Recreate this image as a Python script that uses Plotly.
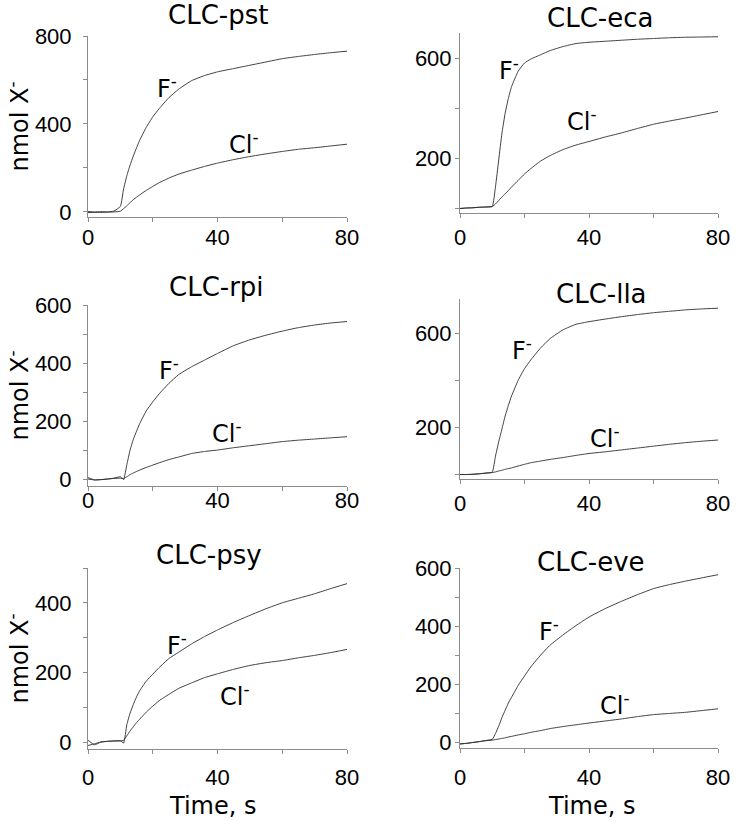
import plotly.graph_objects as go

# ---------------- data ----------------
T = [0, 2, 4, 6, 8, 10, 11, 12, 13, 14, 15, 16, 18, 20, 22, 25, 28, 32, 36, 40, 45, 50, 55, 60, 65, 70, 75, 80]

pst_F = [2, 0, 1, 0, 4, 25, 105, 165, 213, 255, 292, 327, 385, 432, 470, 520, 558, 597, 620, 637, 652, 667, 682, 697, 707, 716, 724, 731]
pst_Cl = [-3, -2, -2, -1, 0, 3, 15, 28, 42, 56, 67, 78, 98, 116, 133, 154, 172, 190, 207, 222, 238, 252, 264, 275, 285, 292, 300, 308]
eca_F = [-2, 0, 1, 3, 4, 6, 85, 192, 299, 379, 439, 486, 546, 580, 596, 613, 630, 646, 658, 663, 667, 671, 675, 678, 681, 683, 684, 685]
eca_Cl = [-2, 0, 1, 3, 4, 6, 16, 30, 44, 57, 70, 84, 110, 136, 158, 188, 210, 234, 252, 266, 284, 300, 318, 335, 348, 360, 373, 386]
rpi_F = [5, -3, -2, 0, 3, 8, -2, 50, 100, 137, 165, 192, 235, 266, 294, 330, 360, 387, 410, 433, 460, 480, 496, 510, 522, 531, 538, 543]
rpi_Cl = [0, -3, -2, 0, 2, 3, 2, 8, 15, 21, 26, 31, 40, 48, 56, 67, 76, 88, 95, 100, 108, 115, 122, 129, 134, 138, 142, 146]
lla_F = [2, 2, 3, 5, 8, 12, 80, 140, 195, 250, 295, 335, 400, 450, 488, 538, 578, 615, 638, 649, 660, 670, 679, 687, 693, 699, 703, 706]
lla_Cl = [2, 2, 3, 5, 8, 10, 13, 17, 20, 24, 27, 30, 38, 45, 52, 59, 66, 74, 83, 91, 98, 106, 114, 122, 130, 137, 143, 148]
psy_F = [5, -8, 0, 2, 3, 4, -3, 50, 83, 108, 130, 148, 175, 195, 214, 240, 258, 282, 303, 322, 344, 364, 383, 400, 413, 426, 441, 455]
psy_Cl = [-10, -5, 0, 2, 3, 3, 5, 18, 32, 44, 56, 66, 86, 103, 119, 137, 154, 170, 185, 196, 209, 220, 228, 234, 242, 249, 257, 266]
eve_F = [-6, -4, -1, 2, 6, 10, 30, 55, 85, 110, 135, 155, 195, 228, 260, 300, 335, 370, 402, 431, 460, 485, 508, 529, 543, 555, 566, 577]
eve_Cl = [-6, -4, -1, 2, 5, 7, 9, 11, 13, 15, 18, 20, 25, 29, 34, 40, 47, 54, 60, 66, 73, 80, 88, 95, 99, 103, 109, 115]

titles = ["CLC-pst", "CLC-eca", "CLC-rpi", "CLC-lla", "CLC-psy", "CLC-eve"]
F_series = [pst_F, eca_F, rpi_F, lla_F, psy_F, eve_F]
Cl_series = [pst_Cl, eca_Cl, rpi_Cl, lla_Cl, psy_Cl, eve_Cl]

x_ticks = [0, 20, 40, 60, 80]
x_ticktext = ["0", "", "40", "", "80"]
y_ranges = [[-23, 800], [-20, 700], [-24, 600], [-17, 745], [-20, 500], [-20, 600]]
y_tickvals = [[0, 200, 400, 600, 800], [0, 200, 400, 600], [0, 100, 200, 300, 400, 500, 600],
              [0, 200, 400, 600], [0, 100, 200, 300, 400, 500], [0, 100, 200, 300, 400, 500, 600]]
y_ticktext = [["0", "", "400", "", "800"], ["", "200", "", "600"], ["0", "", "200", "", "400", "", "600"],
              ["", "200", "", "600"], ["0", "", "200", "", "400", ""], ["0", "", "200", "", "400", "", "600"]]
# label anchors (time, value) for F- and Cl-
F_label = [(20.7, 568), (11.5, 556), (21.3, 379), (15.5, 532), (23.8, 283), (23.9, 386)]
Cl_label = [(42.9, 314), (32.6, 352), (37.7, 162), (39.8, 162), (40.1, 134), (42.9, 131)]

# ---------------- layout geometry (pixels) ----------------
W, H = 740, 821
boxes = [  # left, right, top, bottom
    (88, 347, 36, 217), (460, 718, 33, 213),
    (88, 347, 305, 486), (460, 718, 299, 479),
    (88, 347, 568, 749), (460, 718, 568, 748),
]
x_standoff = [-3, 1, -9, 1, 5, 6]
y_standoff = [7, -1, 7, -1, 7, -1]
title_pos = [(218, 15), (600, 18), (216, 287), (601, 294), (209, 555), (591, 562)]

LINE = "#2b2b2b"
AX = "#8c8c8c"
TICKFONT = dict(family="Liberation Sans, Arial", size=22, color="black")
TXT = "DejaVu Sans"

fig = go.Figure()
annotations = []
layout = {}
for i in range(6):
    sfx = "" if i == 0 else str(i + 1)
    xa, ya = "x" + sfx, "y" + sfx
    for series in (F_series[i], Cl_series[i]):
        fig.add_trace(go.Scatter(x=T, y=series, mode="lines",
                                 line=dict(color=LINE, width=0.9, shape="spline", smoothing=0.4),
                                 xaxis=xa, yaxis=ya, showlegend=False, hoverinfo="skip"))
    l, r, t, b = boxes[i]
    layout["xaxis" + sfx] = dict(
        domain=[l / W, r / W], anchor=ya, range=[0, 80], tickvals=x_ticks, ticktext=x_ticktext,
        showline=True, linecolor=AX, linewidth=1, ticks="outside", ticklen=4, tickcolor=AX,
        showgrid=False, zeroline=False, tickfont=TICKFONT, ticklabelstandoff=x_standoff[i],
        fixedrange=True, automargin=False)
    layout["yaxis" + sfx] = dict(
        domain=[1 - b / H, 1 - t / H], anchor=xa, range=y_ranges[i], tickvals=y_tickvals[i],
        ticktext=y_ticktext[i], showline=True, linecolor=AX, linewidth=1, ticks="outside",
        ticklen=4, tickcolor=AX, showgrid=False, zeroline=False, tickfont=TICKFONT,
        ticklabelstandoff=y_standoff[i], fixedrange=True, automargin=False)
    tx, ty = title_pos[i]
    annotations.append(dict(text=titles[i], x=tx / W, y=1 - ty / H, xref="paper", yref="paper",
                            xanchor="center", yanchor="middle", showarrow=False,
                            font=dict(family=TXT, size=26, color="black")))
    fx, fy = F_label[i]
    annotations.append(dict(text="F<sup>-</sup>", x=fx, y=fy, xref=xa, yref=ya, xanchor="left",
                            yanchor="middle", showarrow=False,
                            font=dict(family=TXT, size=24, color="black")))
    cx, cy = Cl_label[i]
    annotations.append(dict(text="Cl<sup>-</sup>", x=cx, y=cy, xref=xa, yref=ya, xanchor="left",
                            yanchor="middle", showarrow=False,
                            font=dict(family=TXT, size=24, color="black")))

# y-axis titles (left column) and x-axis titles (bottom row)
for (l, r, t, b) in [boxes[0], boxes[2], boxes[4]]:
    annotations.append(dict(text="nmol X<sup>-</sup>", x=17 / W, y=1 - ((t + b) / 2) / H,
                            xref="paper", yref="paper", xanchor="center", yanchor="middle",
                            textangle=-90, showarrow=False,
                            font=dict(family=TXT, size=24, color="black")))
for cx in [213, 592]:
    annotations.append(dict(text="Time, s", x=cx / W, y=1 - 806 / H, xref="paper", yref="paper",
                            xanchor="center", yanchor="middle", showarrow=False,
                            font=dict(family=TXT, size=24, color="black")))

fig.update_layout(width=W, height=H, margin=dict(l=0, r=0, t=0, b=0, pad=0),
                  paper_bgcolor="white", plot_bgcolor="white", autosize=False,
                  annotations=annotations, **layout)
fig.write_html("out.html", config={"displayModeBar": False},
               post_script="document.body.style.margin='0';document.body.style.padding='0';")
